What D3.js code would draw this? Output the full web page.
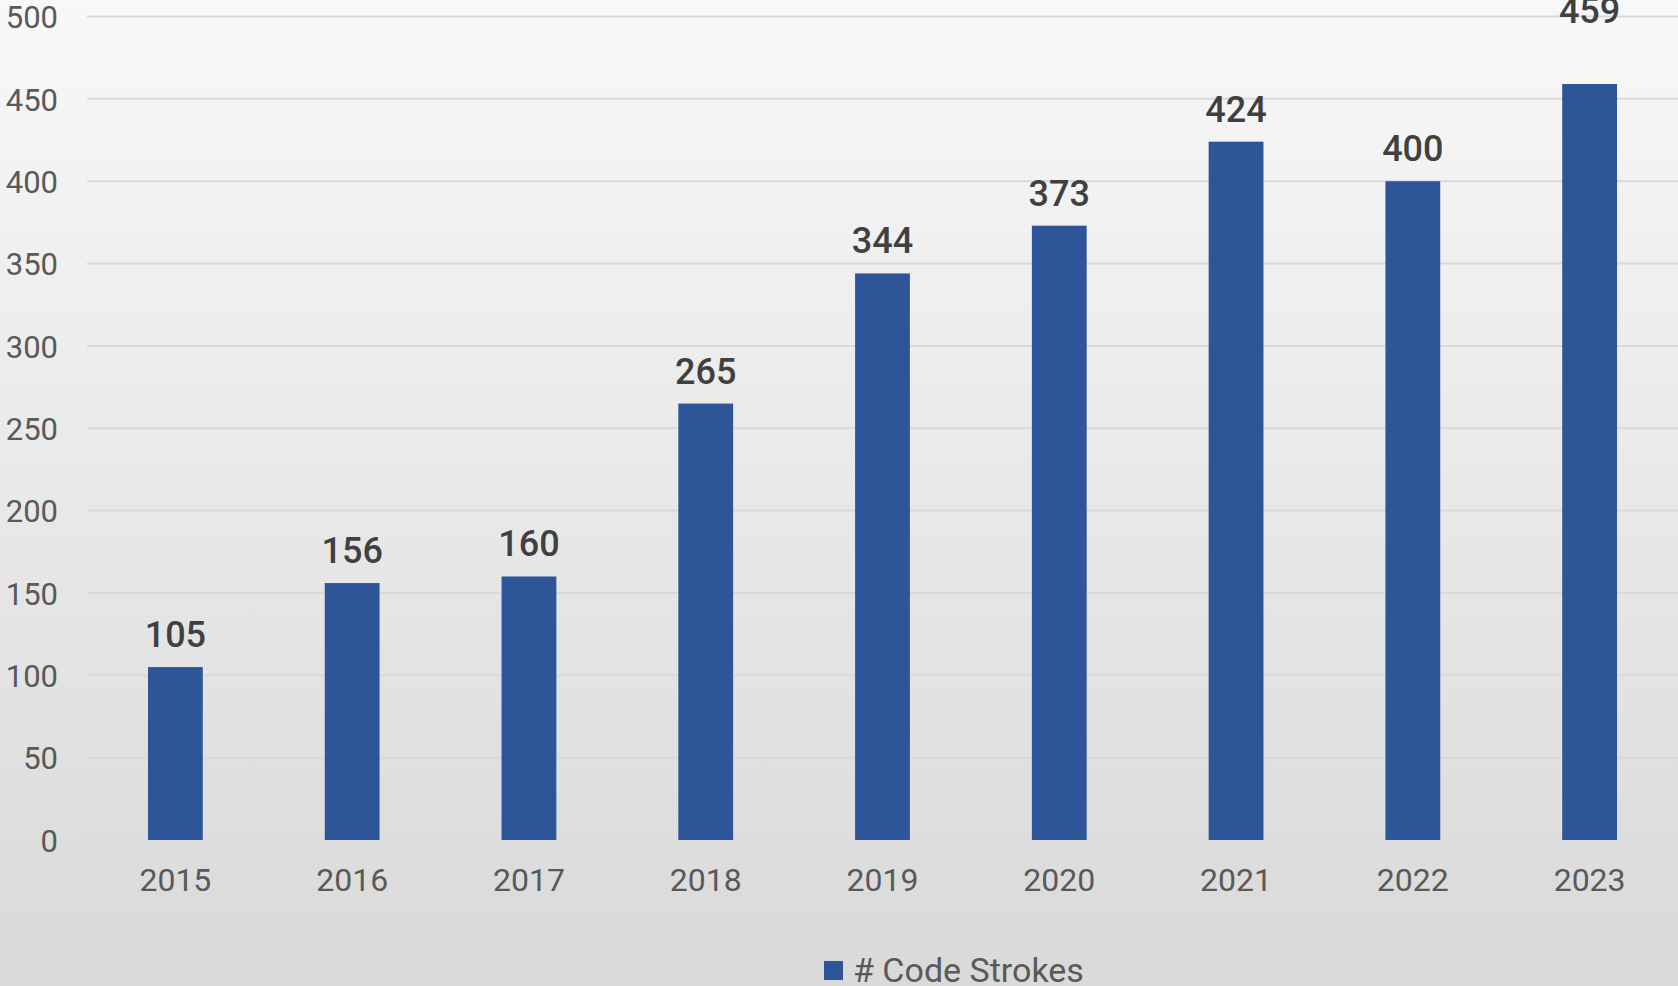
<!DOCTYPE html>
<html>
<head>
<meta charset="utf-8">
<script src="https://cdn.jsdelivr.net/npm/d3@7"></script>
<style>
  html, body { margin: 0; padding: 0; overflow: hidden; }
  svg { display: block; }
  text { font-family: Roboto, "Liberation Sans", Arial, sans-serif; }
</style>
</head>
<body>
<script>
// Yearly count of code strokes
const years = ["2015", "2016", "2017", "2018", "2019", "2020", "2021", "2022", "2023"];
const strokes = [105, 156, 160, 265, 344, 373, 424, 400, 459];
const yTicks = [0, 50, 100, 150, 200, 250, 300, 350, 400, 450, 500];
const seriesName = "# Code Strokes";

const W = 1678, H = 986;
const margin = { top: 16.5, right: 0, bottom: 146, left: 87 };
const FONT = "Roboto, 'Liberation Sans', Arial, sans-serif";

const svg = d3.select("body").append("svg")
  .attr("width", W).attr("height", H);

// soft vertical background gradient
const defs = svg.append("defs");
const grad = defs.append("linearGradient")
  .attr("id", "bg").attr("x1", 0).attr("y1", 0).attr("x2", 0).attr("y2", 1);
grad.append("stop").attr("offset", "0%").attr("stop-color", "#f8f8f8");
grad.append("stop").attr("offset", "100%").attr("stop-color", "#d9d9d9");
svg.append("rect").attr("width", W).attr("height", H).attr("fill", "url(#bg)");

const x = d3.scaleBand()
  .domain(years)
  .range([margin.left, W - margin.right])
  .paddingInner(0.69)
  .paddingOuter(0.345);

const y = d3.scaleLinear()
  .domain([0, 500])
  .range([H - margin.bottom, margin.top]);

// horizontal gridlines
svg.append("g")
  .selectAll("line")
  .data(yTicks)
  .join("line")
  .attr("x1", margin.left)
  .attr("x2", W)
  .attr("y1", d => y(d))
  .attr("y2", d => y(d))
  .attr("stroke", "#d9d9d9")
  .attr("stroke-width", 2);

// y axis labels
const yAxis = d3.axisLeft(y).tickValues(yTicks).tickSize(0).tickPadding(0);
svg.append("g")
  .attr("transform", `translate(58,0)`)
  .call(yAxis)
  .call(g => g.select(".domain").remove())
  .call(g => g.selectAll("text")
    .attr("fill", "#595959")
    .attr("font-size", 31)
    .attr("font-family", FONT)
    .attr("dy", "0.36em"));

// x axis labels
const xAxis = d3.axisBottom(x).tickSize(0).tickPadding(0);
svg.append("g")
  .attr("transform", `translate(0,${H - margin.bottom})`)
  .call(xAxis)
  .call(g => g.select(".domain").remove())
  .call(g => g.selectAll("text")
    .attr("fill", "#595959")
    .attr("font-size", 32)
    .attr("font-family", FONT)
    .attr("y", 51)
    .attr("dy", 0));

const data = years.map((yr, i) => ({ year: yr, value: strokes[i] }));
const maxValue = d3.max(strokes);

// bars
svg.append("g")
  .selectAll("rect")
  .data(data)
  .join("rect")
  .attr("x", d => x(d.year))
  .attr("width", x.bandwidth())
  .attr("y", d => y(d.value))
  .attr("height", d => y(0) - y(d.value))
  .attr("fill", "#2e5597");

// value labels above bars; the tallest one sits up at the top gridline
svg.append("g")
  .selectAll("text")
  .data(data)
  .join("text")
  .attr("x", d => x(d.year) + x.bandwidth() / 2)
  .attr("y", d => d.value === maxValue ? y(500) + 6 : y(d.value) - 20)
  .attr("text-anchor", "middle")
  .attr("fill", "#404040")
  .attr("font-size", 36)
  .attr("font-weight", 500)
  .text(d => d.value);

// legend
const legend = svg.append("g").attr("transform", "translate(824,961)");
legend.append("rect")
  .attr("width", 19).attr("height", 19)
  .attr("fill", "#2e5597");
legend.append("text")
  .attr("x", 29).attr("y", 21)
  .attr("fill", "#595959")
  .attr("font-size", 34)
  .text(seriesName);
</script>
</body>
</html>
